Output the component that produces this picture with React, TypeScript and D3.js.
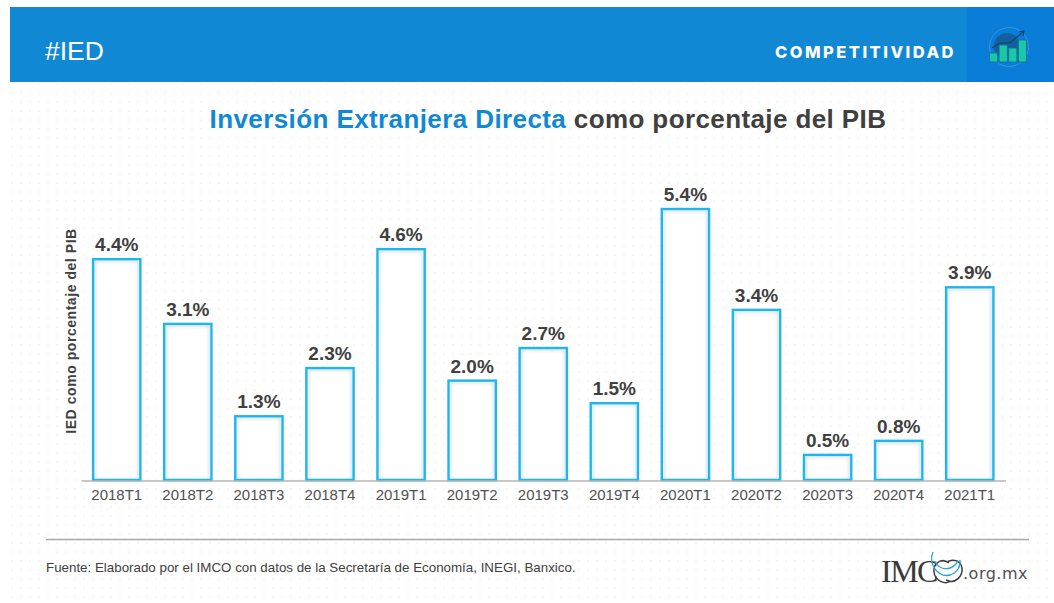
import { useRef, useEffect } from "react";
import * as d3 from "d3";

const quarters = ["2018T1", "2018T2", "2018T3", "2018T4", "2019T1", "2019T2", "2019T3", "2019T4", "2020T1", "2020T2", "2020T3", "2020T4", "2021T1"];
// bar heights as measured, the printed labels are rounded
const values = [4.4, 3.11, 1.27, 2.23, 4.6, 1.98, 2.63, 1.53, 5.4, 3.39, 0.5, 0.78, 3.84];
const labels = ["4.4%", "3.1%", "1.3%", "2.3%", "4.6%", "2.0%", "2.7%", "1.5%", "5.4%", "3.4%", "0.5%", "0.8%", "3.9%"];
const iconBars = [9, 17, 14, 22];

const BLUE = "#1088d4";
const DARK = "#404040";
const BAR = "#1fb6ee";
const FONT = "'Liberation Sans', Arial, sans-serif";

const App = () => {
  const container = useRef<SVGSVGElement | null>(null);

  useEffect(() => {
    const svg = d3.select(container.current);
    svg.selectAll("*").remove();

    // dotted paper background
    const defs = svg.append("defs");
    const pattern = defs
      .append("pattern")
      .attr("id", "dots")
      .attr("width", 9)
      .attr("height", 9)
      .attr("patternUnits", "userSpaceOnUse");
    pattern.append("circle").attr("cx", 3).attr("cy", 3).attr("r", 1.1).attr("fill", "#f4f4f4");

    const shadow = defs.append("filter").attr("id", "soft").attr("x", "-20%").attr("y", "-20%").attr("width", "140%").attr("height", "140%");
    shadow.append("feGaussianBlur").attr("stdDeviation", 1.6);

    svg.append("rect").attr("width", 1054).attr("height", 603).attr("fill", "#fff");
    svg.append("rect").attr("x", 10).attr("y", 82).attr("width", 1044).attr("height", 521).attr("fill", "url(#dots)");

    // header band
    svg.append("rect").attr("x", 10).attr("y", 7).attr("width", 1044).attr("height", 75).attr("fill", BLUE);
    svg.append("rect").attr("x", 967).attr("y", 7).attr("width", 87).attr("height", 75).attr("fill", "#0a7dd8");
    svg.append("text").attr("x", 45).attr("y", 60).attr("font-family", FONT).attr("font-size", 26.5).attr("fill", "#fff").text("#IED");
    svg
      .append("text")
      .attr("x", 775)
      .attr("y", 57.5)
      .attr("font-family", "Inter, 'Open Sans', sans-serif")
      .attr("font-weight", 800)
      .attr("font-size", 16.5)
      .attr("letter-spacing", 2.47)
      .attr("fill", "#fff")
      .text("COMPETITIVIDAD");

    // little icon at the right of the band
    const icon = svg.append("g");
    icon.append("circle").attr("cx", 1009).attr("cy", 47).attr("r", 19.5).attr("fill", "none").attr("stroke", "#3f9ee0").attr("stroke-width", 0.8);
    icon.append("circle").attr("cx", 1007).attr("cy", 46).attr("r", 13).attr("fill", "#14609f");
    const iconX = d3.scaleBand<number>().domain(d3.range(iconBars.length)).range([988, 1028]).padding(0.15);
    const iconY = d3.scaleLinear().domain([0, 22]).range([62, 40]);
    icon
      .selectAll("rect")
      .data(iconBars)
      .join("rect")
      .attr("x", (_, i) => iconX(i) as number)
      .attr("y", (d) => iconY(d))
      .attr("width", iconX.bandwidth())
      .attr("height", (d) => 62 - iconY(d))
      .attr("fill", "#17c9a6")
      .attr("stroke", "#15689f")
      .attr("stroke-width", 0.8);
    icon
      .append("path")
      .attr("d", "M992 48 L1000 43 L1010 43 L1023 32 M1019 32 L1024 31 L1023 36")
      .attr("fill", "none")
      .attr("stroke", "#143f66")
      .attr("stroke-width", 1.1);

    // title
    const title = svg
      .append("text")
      .attr("x", 548)
      .attr("y", 128)
      .attr("text-anchor", "middle")
      .attr("font-family", FONT)
      .attr("font-weight", 700)
      .attr("font-size", 26)
      .attr("letter-spacing", 0.4);
    title.append("tspan").attr("fill", BLUE).text("Inversión Extranjera Directa");
    title.append("tspan").attr("fill", DARK).text(" como porcentaje del PIB");

    // scales
    const xScale = d3.scaleBand<string>().domain(quarters).range([81, 1005.5]).paddingInner(0.335).paddingOuter(0.17);
    const yScale = d3.scaleLinear().domain([0, 5.4]).range([480, 209]);

    const bars = svg.append("g");
    bars
      .selectAll(".bar")
      .data(values)
      .join("rect")
      .attr("class", "bar")
      .attr("x", (_, i) => xScale(quarters[i]) as number)
      .attr("y", (d) => yScale(d))
      .attr("width", xScale.bandwidth())
      .attr("height", (d) => 480 - yScale(d))
      .attr("fill", "#fff")
      .attr("stroke", "none");
    // soft inner glow on the bar edges
    bars
      .selectAll(".bar-glow")
      .data(values)
      .join("rect")
      .attr("class", "bar-glow")
      .attr("x", (_, i) => (xScale(quarters[i]) as number) + 2)
      .attr("y", (d) => yScale(d) + 2)
      .attr("width", xScale.bandwidth() - 4)
      .attr("height", (d) => 480 - yScale(d) - 2)
      .attr("fill", "none")
      .attr("stroke", "#c4d3e6")
      .attr("stroke-width", 1.5)
      .attr("filter", "url(#soft)");
    bars
      .selectAll(".bar-edge")
      .data(values)
      .join("rect")
      .attr("class", "bar-edge")
      .attr("x", (_, i) => xScale(quarters[i]) as number)
      .attr("y", (d) => yScale(d))
      .attr("width", xScale.bandwidth())
      .attr("height", (d) => 480 - yScale(d))
      .attr("fill", "none")
      .attr("stroke", BAR)
      .attr("stroke-width", 2.4);

    svg
      .selectAll(".val")
      .data(values)
      .join("text")
      .attr("class", "val")
      .attr("x", (_, i) => (xScale(quarters[i]) as number) + xScale.bandwidth() / 2)
      .attr("y", (d) => yScale(d) - 8)
      .attr("text-anchor", "middle")
      .attr("font-family", FONT)
      .attr("font-weight", 700)
      .attr("font-size", 19)
      .attr("fill", DARK)
      .text((_, i) => labels[i]);

    // axis
    const xaxis = d3.axisBottom(xScale).tickSize(0).tickPadding(9);
    const xaxisg = svg.append("g").attr("transform", "translate(0,480.5)").call(xaxis);
    xaxisg.select(".domain").attr("stroke", "#b5b5b5").attr("stroke-width", 1.3);
    xaxisg.selectAll("text").attr("font-family", FONT).attr("font-size", 15).attr("fill", "#505050");

    svg
      .append("text")
      .attr("transform", "translate(76,331) rotate(-90)")
      .attr("text-anchor", "middle")
      .attr("font-family", FONT)
      .attr("font-weight", 700)
      .attr("font-size", 14)
      .attr("letter-spacing", 0.55)
      .attr("fill", DARK)
      .text("IED como porcentaje del PIB");

    // footer
    svg.append("line").attr("x1", 46).attr("x2", 1029).attr("y1", 539.5).attr("y2", 539.5).attr("stroke", "#a8a8a8").attr("stroke-width", 1.3);
    svg
      .append("text")
      .attr("x", 46)
      .attr("y", 572)
      .attr("font-family", FONT)
      .attr("font-size", 13.35)
      .attr("fill", DARK)
      .text("Fuente: Elaborado por el IMCO con datos de la Secretaría de Economía, INEGI, Banxico.");

    // logo
    const logo = svg.append("g");
    logo
      .append("text")
      .attr("x", 881)
      .attr("y", 582)
      .attr("font-family", "'Liberation Serif', serif")
      .attr("font-size", 32)
      .attr("letter-spacing", -1.5)
      .attr("fill", "#3a3a3a")
      .text("IMC");
    logo
      .append("path")
      .attr("d", "M949 563 C941 557 933 564 934 572 C935 581 945 585 951 581 M946 580 C955 585 963 576 962 568 C961 561 953 558 947 562")
      .attr("fill", "none")
      .attr("stroke", "#3a3a3a")
      .attr("stroke-width", 1.5);
    logo
      .append("path")
      .attr("d", "M933 552 C928 564 938 578 950 575 C957 573 961 566 960 560 M935 562 C942 573 955 569 958 560")
      .attr("fill", "none")
      .attr("stroke", "#2aa3cf")
      .attr("stroke-width", 1.3);
    logo.append("text").attr("x", 963).attr("y", 579).attr("font-family", "'DejaVu Sans', sans-serif").attr("font-size", 16).attr("letter-spacing", 0.5).attr("fill", "#505050").text(".org.mx");
  }, []);

  return <svg ref={container} width={1054} height={603} style={{ position: "absolute", left: 0, top: 0 }} />;
};

export default App;
